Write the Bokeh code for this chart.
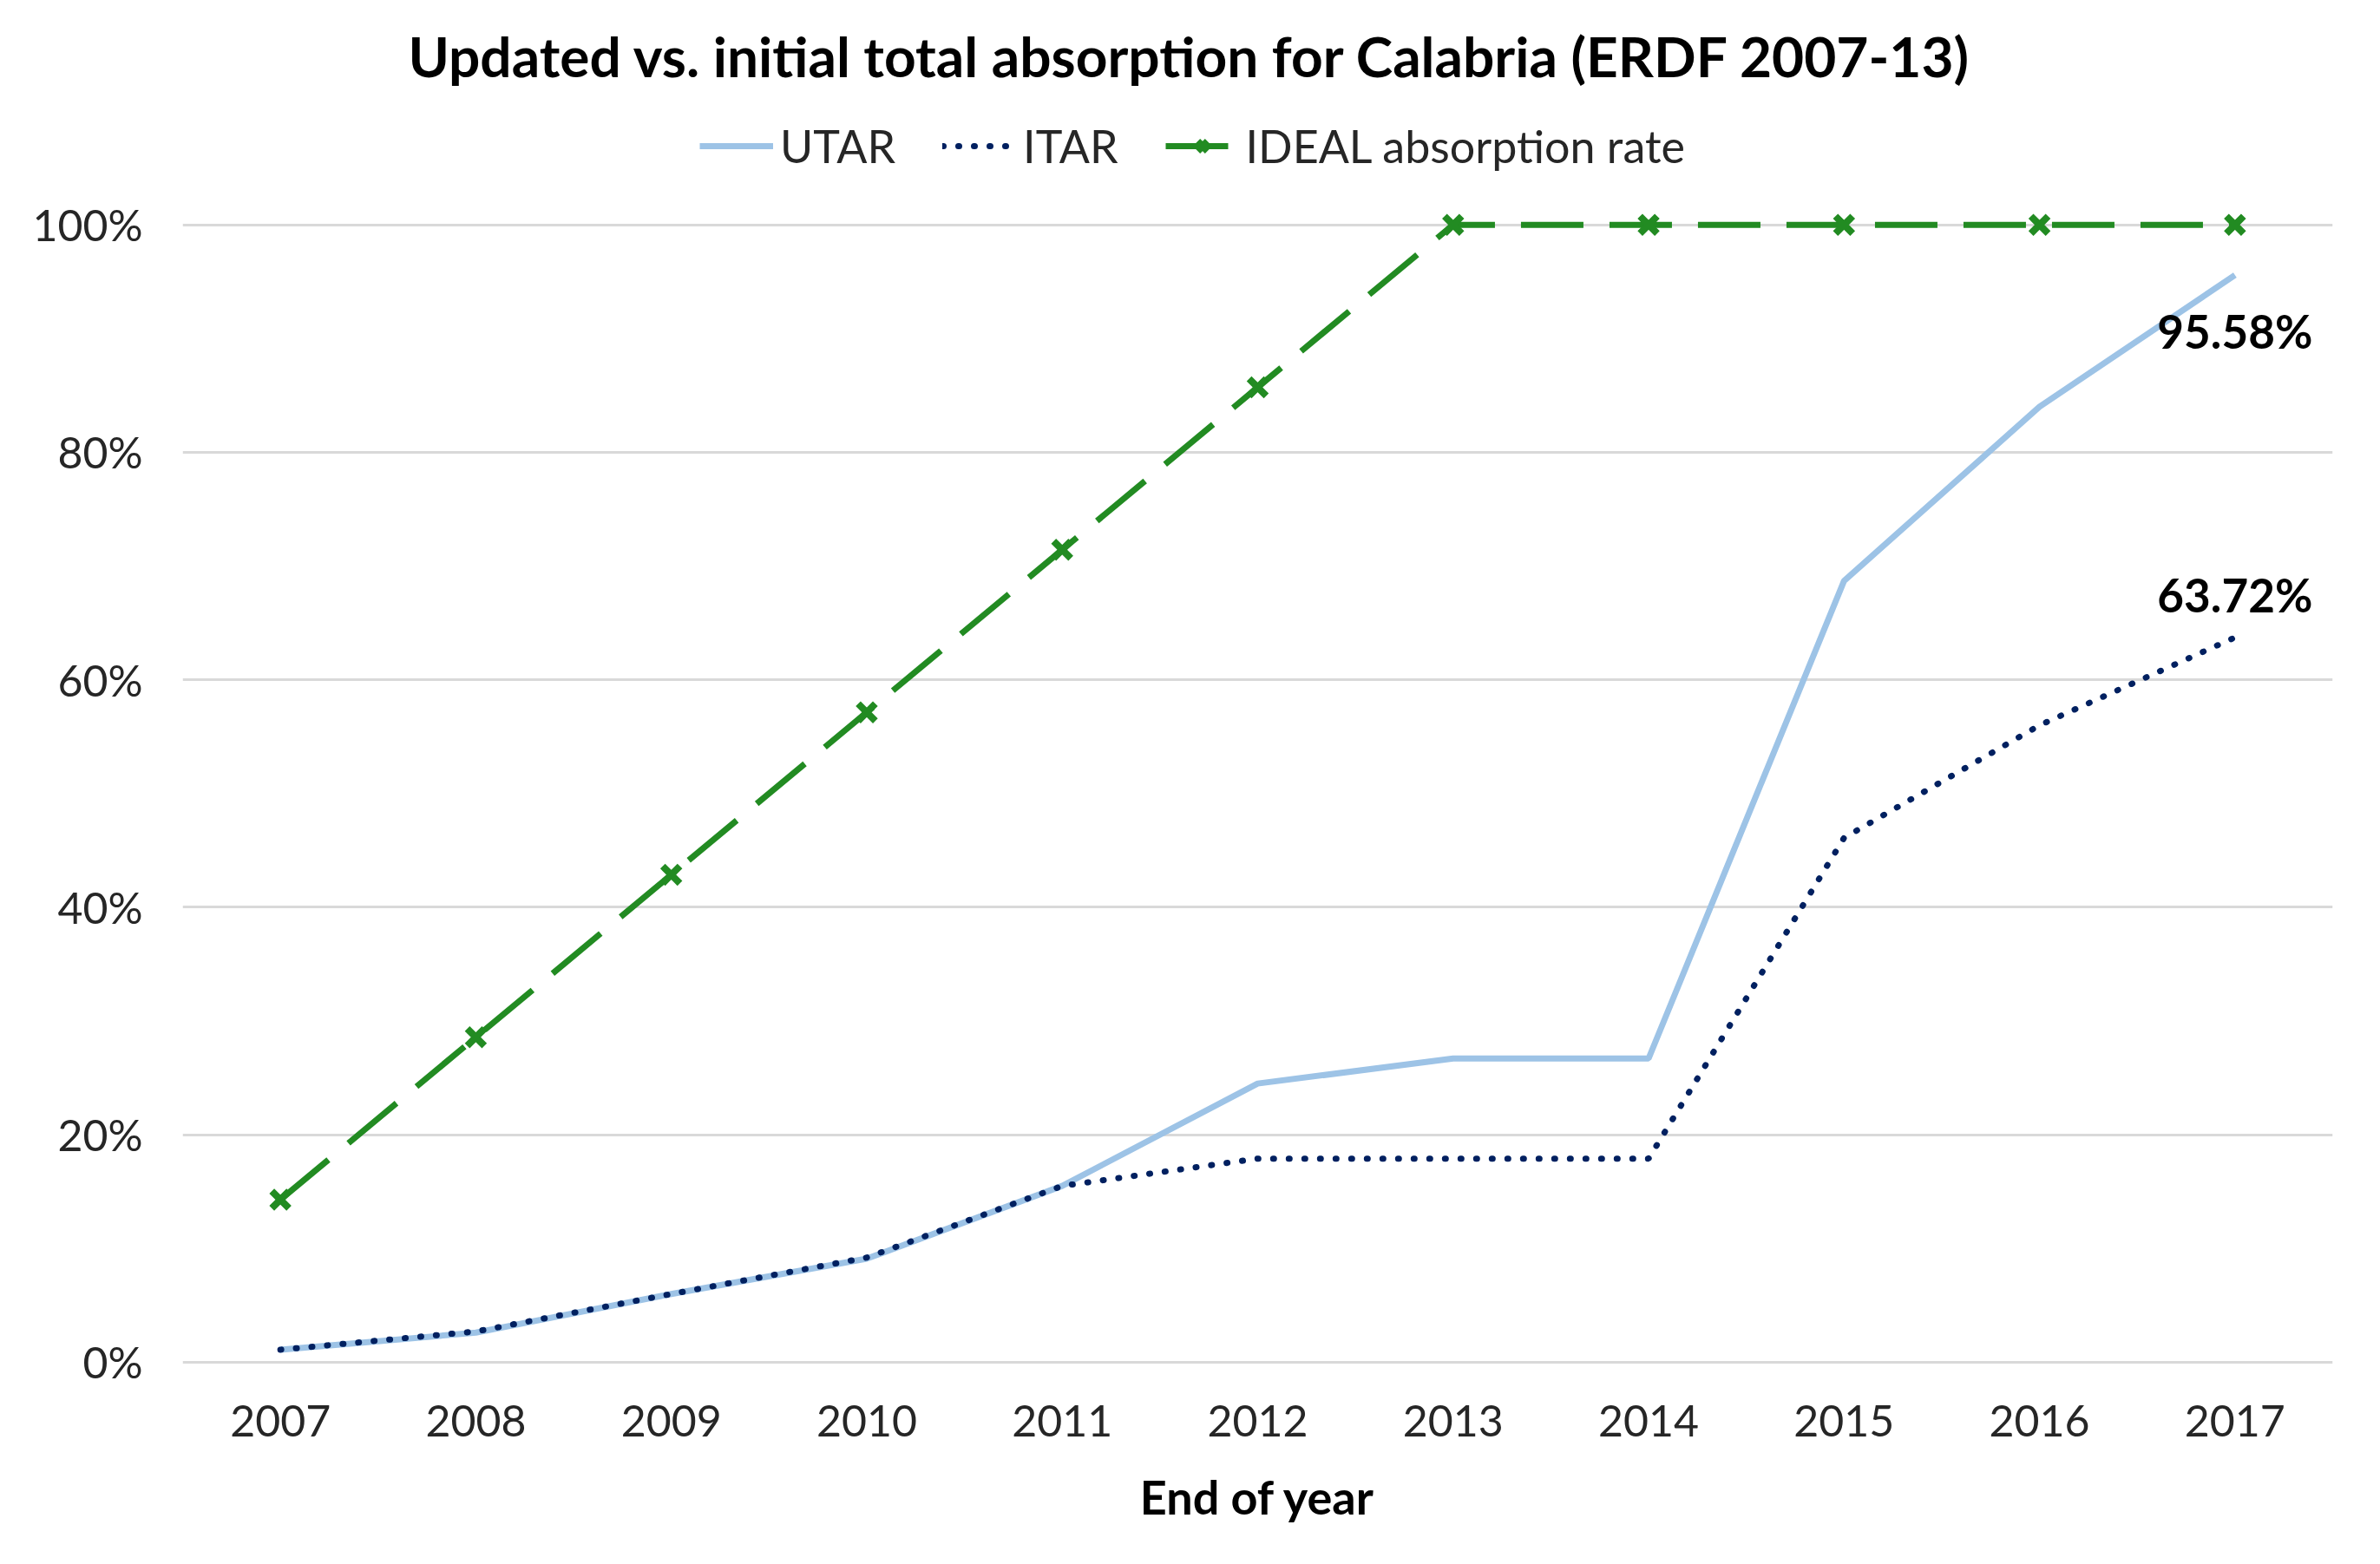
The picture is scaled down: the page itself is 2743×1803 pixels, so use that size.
from bokeh.plotting import figure
from bokeh.models import (FixedTicker, NumeralTickFormatter, Legend, LegendItem,
                          Label, Range1d)
from bokeh.embed import file_html
from bokeh.resources import INLINE

years = [2007, 2008, 2009, 2010, 2011, 2012, 2013, 2014, 2015, 2016, 2017]
utar = [0.011, 0.026, 0.060, 0.091, 0.155, 0.245, 0.267, 0.267, 0.687, 0.840, 0.9558]
itar = [0.011, 0.027, 0.060, 0.092, 0.155, 0.179, 0.179, 0.179, 0.461, 0.560, 0.6372]
ideal = [0.1429, 0.2857, 0.4286, 0.5714, 0.7143, 0.8571, 1.0, 1.0, 1.0, 1.0, 1.0]
y_ticks = [0, 0.2, 0.4, 0.6, 0.8, 1.0]

FONT = "Lato"

p = figure(frame_width=2478, frame_height=1462,
           x_range=Range1d(2006.5, 2017.5), y_range=Range1d(-0.01, 1.105),
           output_backend="svg", toolbar_location=None,
           min_border_left=210, min_border_right=30, min_border_top=121,
           min_border_bottom=197,
           title="Updated vs. initial total absorption for Calabria (ERDF 2007-13)")
p.outline_line_color = None
p.background_fill_color = "white"
p.border_fill_color = "white"

p.title.align = "left"
p.title.offset = 260
p.title.text_font = FONT
p.title.text_font_style = "bold"
p.title.text_font_size = "64px"
p.title.text_color = "black"
p.title.standoff = 38

# axes
p.xaxis.ticker = FixedTicker(ticks=years)
p.yaxis.ticker = FixedTicker(ticks=y_ticks)
p.yaxis.formatter = NumeralTickFormatter(format="0%")
for ax in (p.xaxis[0], p.yaxis[0]):
    ax.axis_line_color = None
    ax.major_tick_line_color = None
    ax.minor_tick_line_color = None
    ax.major_label_text_font = FONT
    ax.major_label_text_font_size = "50px"
    ax.major_label_text_color = "#262626"
p.yaxis.major_label_standoff = 40
p.xaxis.major_label_standoff = 30
p.xaxis.axis_label = "End of year"
p.xaxis.axis_label_text_font = FONT
p.xaxis.axis_label_text_font_style = "bold"
p.xaxis.axis_label_text_font_size = "54px"
p.xaxis.axis_label_text_color = "black"
p.xaxis.axis_label_standoff = 34

p.xgrid.grid_line_color = None
p.ygrid.grid_line_color = "#d9d9d9"
p.ygrid.grid_line_width = 3

r_utar = p.line(years, utar, line_color="#9dc3e6", line_width=7)
r_itar = p.line(years, itar, line_color="#002060", line_width=7,
                line_dash="1 17", line_cap="round")
r_ideal = p.line(years, ideal, line_color="#228b22", line_width=7,
                 line_dash="72 30")
r_ideal_m = p.scatter(years, ideal, marker="x", size=28, line_color="#228b22",
                      line_width=8)

legend = Legend(items=[LegendItem(label="UTAR", renderers=[r_utar]),
                       LegendItem(label="ITAR", renderers=[r_itar]),
                       LegendItem(label="IDEAL absorption rate", renderers=[r_ideal, r_ideal_m])],
                orientation="horizontal", location=(596, 1384),
                label_text_font=FONT, label_text_font_size="52px",
                label_text_color="#262626",
                glyph_width=85, glyph_height=40, label_standoff=8, spacing=54,
                padding=0, margin=0, border_line_color=None,
                background_fill_alpha=0)
p.add_layout(legend, "center")

# data labels for the final values
p.add_layout(Label(x=years[-1], y=utar[-1], text=f"{utar[-1]*100:.2f}%",
                   text_font=FONT, text_font_style="bold", text_font_size="53px",
                   text_align="center", text_baseline="middle", y_offset=-64,
                   text_color="black"))
p.add_layout(Label(x=years[-1], y=itar[-1], text=f"{itar[-1]*100:.2f}%",
                   text_font=FONT, text_font_style="bold", text_font_size="53px",
                   text_align="center", text_baseline="middle", y_offset=49,
                   text_color="black"))

open("out.html", "w").write(file_html(p, INLINE))
